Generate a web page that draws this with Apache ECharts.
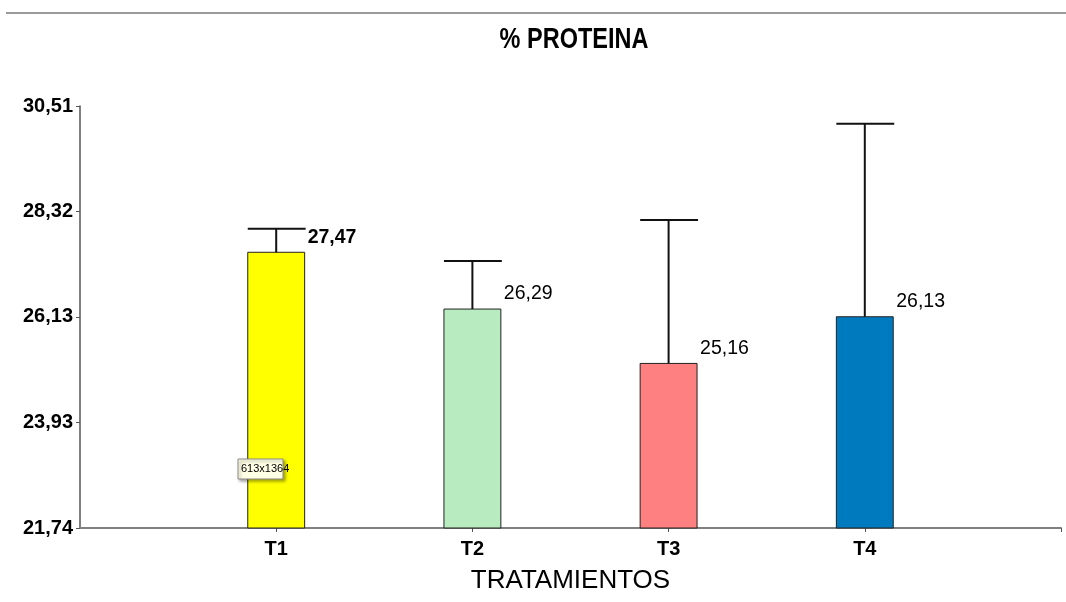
<!DOCTYPE html>
<html>
<head>
<meta charset="utf-8">
<script src="https://cdn.jsdelivr.net/npm/echarts@6/dist/echarts.min.js"></script>
<style>
  html, body { margin: 0; padding: 0; background: #fff; }
  #chart { width: 1066px; height: 602px; }
</style>
</head>
<body>
<div id="chart"></div>
<script>
// Treatments, mean protein % and upper error limits
const categories = ['T1', 'T2', 'T3', 'T4'];
const catPos = [1, 2, 3, 4];
const means = [27.47, 26.29, 25.16, 26.13];
const errTops = [27.96, 27.29, 28.14, 30.14];
const barColors = ['#FFFF00', '#B8EBC0', '#FF8080', '#007ABF'];
const boldLabel = [true, false, false, false];
const yTicks = [21.74, 23.93, 26.13, 28.32, 30.51];

const fmt = v => v.toFixed(2).replace('.', ',');
const FONT = "'Liberation Sans', Arial, sans-serif";
const HALF = 0.145;

const chart = echarts.init(document.getElementById('chart'), null, { renderer: 'canvas' });

const data = categories.map((c, i) => [catPos[i], means[i], errTops[i], i]);

chart.setOption({
  backgroundColor: '#ffffff',
  animation: false,
  grid: { left: 80, right: 5, top: 106, bottom: 74, outerBoundsMode: 'none', containLabel: false },
  xAxis: {
    type: 'value', min: 0, max: 5,
    name: 'TRATAMIENTOS', nameLocation: 'middle', nameGap: 40,
    nameTextStyle: { fontFamily: FONT, fontSize: 26, color: '#000' },
    axisLine: { show: true, lineStyle: { color: '#808080', width: 2 } },
    axisTick: { show: true, length: 4, lineStyle: { color: '#555' }, customValues: [1, 2, 3, 4, 5] },
    axisLabel: {
      customValues: catPos, margin: 11,
      fontFamily: FONT, fontWeight: 'bold', fontSize: 20, color: '#000',
      formatter: v => categories[catPos.indexOf(Math.round(v))] || ''
    },
    splitLine: { show: false }
  },
  yAxis: {
    type: 'value', min: 21.74, max: 30.51,
    axisLine: { show: true, lineStyle: { color: '#555', width: 1.5 } },
    axisTick: { show: true, length: 4, lineStyle: { color: '#555' }, customValues: yTicks },
    axisLabel: {
      customValues: yTicks, margin: 7,
      fontFamily: FONT, fontWeight: 'bold', fontSize: 20, color: '#000',
      formatter: v => fmt(v)
    },
    splitLine: { show: false }
  },
  series: [{
    type: 'custom',
    data: data,
    encode: { x: 0, y: [1, 2] },
    renderItem: function (params, api) {
      const x = api.value(0), m = api.value(1), e = api.value(2), i = api.value(3);
      const base = api.coord([x - HALF, 21.74]);
      const top = api.coord([x + HALF, m]);
      const cx = api.coord([x, m])[0];
      const eTop = api.coord([x, e])[1];
      const capL = api.coord([x - HALF, e])[0];
      const capR = api.coord([x + HALF, e])[0];
      return {
        type: 'group',
        children: [
          { type: 'rect', shape: { x: base[0], y: top[1], width: top[0] - base[0], height: base[1] - top[1] },
            style: { fill: barColors[i], stroke: '#222', lineWidth: 1 } },
          { type: 'line', shape: { x1: cx, y1: top[1], x2: cx, y2: eTop }, style: { stroke: '#111', lineWidth: 2 } },
          { type: 'line', shape: { x1: capL, y1: eTop, x2: capR + 1, y2: eTop }, style: { stroke: '#111', lineWidth: 2 } },
          { type: 'text', x: top[0] + 3, y: top[1] - 15,
            style: { text: fmt(m), fill: '#000', font: (boldLabel[i] ? 'bold ' : '') + '19.5px ' + FONT, textAlign: 'left', textVerticalAlign: 'middle' } }
        ]
      };
    }
  }],
  graphic: [
    { type: 'line', z: 100, shape: { x1: 6, y1: 13, x2: 1066, y2: 13 }, style: { stroke: '#9a9a9a', lineWidth: 2 } },
    // title, drawn narrow
    { type: 'text', z: 100, x: 574, y: 40, scaleX: 0.81, originX: 0, originY: 0,
      style: { text: '% PROTEINA', font: 'bold 29px ' + FONT, fill: '#000', textAlign: 'center', textVerticalAlign: 'middle' } },
    { type: 'group', z: 100, x: 238, y: 459, children: [
      { type: 'rect', z: 100, shape: { x: 0, y: 0, width: 45, height: 20 },
        style: { fill: '#FFFFE6', stroke: '#8a8a8a', lineWidth: 1, shadowBlur: 3, shadowOffsetX: 2, shadowOffsetY: 2, shadowColor: 'rgba(0,0,0,0.35)' } },
      { type: 'text', z: 101, x: 3, y: 10, style: { text: '613x1364', font: '11px ' + FONT, fill: '#000', textVerticalAlign: 'middle' } }
    ] }
  ]
});
</script>
</body>
</html>
